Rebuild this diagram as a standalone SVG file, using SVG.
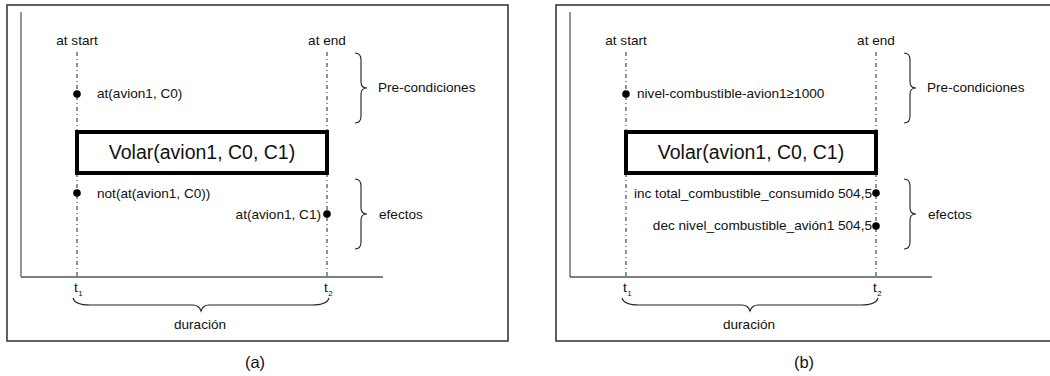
<svg xmlns="http://www.w3.org/2000/svg" width="1050" height="376" viewBox="0 0 1050 376">
  <style>
    text { font-family: "Liberation Sans", Arial, sans-serif; fill: #111; }
    .lbl { font-size: 13.6px; }
    .sub { font-size: 8px; }
    .act { font-size: 19.5px; text-anchor: middle; }
    .cap { font-size: 16.5px; text-anchor: middle; }
    .mid { text-anchor: middle; }
    .end { text-anchor: end; }
    .frame { fill: #fff; stroke: #3a3a3a; stroke-width: 1.6; }
    .yaxis { stroke: #7a7a7a; stroke-width: 1.6; fill: none; }
    .xaxis { stroke: #555; stroke-width: 1.3; fill: none; }
    .tick { stroke: #222; stroke-width: 1; stroke-dasharray: 4 3 1 3; fill: none; }
    .action { fill: #fff; stroke: #000; stroke-width: 4; }
    .brace { fill: none; stroke: #222; stroke-width: 1.1; }
    .dot { fill: #000; }
  </style>
  <defs>
    <!-- right-pointing curly brace, 70 px tall, origin at its upper end -->
    <path id="rbrace" d="M0,0 Q6,0 6,7 L6,29 Q6,35 12,35 Q6,35 6,41 L6,63 Q6,70 0,70"/>
    <!-- downward curly brace spanning the action duration -->
    <path id="dbrace" d="M0,0 Q2,7 17,7 L120,7 Q126,7 128,13 Q130,7 136,7 L239,7 Q254,7 256,0"/>
  </defs>

  <!-- ===================== panel (a) ===================== -->
  <g id="panel-a">
    <rect class="frame" x="7" y="5" width="501" height="336"/>
    <g id="a-axes">
      <line class="yaxis" x1="21" y1="12" x2="21" y2="277"/>
      <line class="xaxis" x1="21" y1="277" x2="383" y2="277"/>
    </g>
    <g id="a-timelines">
      <line class="tick" x1="77" y1="52" x2="77" y2="277"/>
      <line class="tick" x1="327" y1="52" x2="327" y2="277"/>
    </g>
    <g id="a-at-start"><text class="lbl mid" x="77" y="45">at start</text></g>
    <g id="a-at-end"><text class="lbl mid" x="327" y="45">at end</text></g>

    <g id="a-pre">
      <circle class="dot" cx="77" cy="94" r="3.8"/>
      <text class="lbl" x="97" y="98">at(avion1, C0)</text>
    </g>

    <g id="a-action">
      <rect class="action" x="77" y="132" width="250" height="41"/>
      <text class="act" x="202" y="159">Volar(avion1, C0, C1)</text>
    </g>

    <g id="a-eff-start">
      <circle class="dot" cx="77" cy="193" r="3.8"/>
      <text class="lbl" x="97" y="198">not(at(avion1, C0))</text>
    </g>
    <g id="a-eff-end">
      <circle class="dot" cx="327" cy="214" r="3.8"/>
      <text class="lbl end" x="321" y="219">at(avion1, C1)</text>
    </g>

    <g id="a-brace-pre">
      <use href="#rbrace" class="brace" x="355" y="53"/>
      <text class="lbl" x="378" y="92">Pre-condiciones</text>
    </g>
    <g id="a-brace-eff">
      <use href="#rbrace" class="brace" x="355" y="179"/>
      <text class="lbl" x="379" y="219">efectos</text>
    </g>

    <g id="a-t1"><text class="lbl" x="74" y="292">t<tspan class="sub" dx="0.5" dy="4">1</tspan></text></g>
    <g id="a-t2"><text class="lbl" x="324" y="292">t<tspan class="sub" dx="0.5" dy="4">2</tspan></text></g>

    <g id="a-duration">
      <use href="#dbrace" class="brace" x="73" y="298"/>
      <text class="lbl mid" x="200" y="329">duración</text>
    </g>

    <text class="cap" x="255" y="368">(a)</text>
  </g>

  <!-- ===================== panel (b) ===================== -->
  <g id="panel-b">
    <rect class="frame" x="556" y="5" width="501" height="336"/>
    <g id="b-axes">
      <line class="yaxis" x1="570" y1="12" x2="570" y2="277"/>
      <line class="xaxis" x1="570" y1="277" x2="932" y2="277"/>
    </g>
    <g id="b-timelines">
      <line class="tick" x1="626" y1="52" x2="626" y2="277"/>
      <line class="tick" x1="876" y1="52" x2="876" y2="277"/>
    </g>
    <g id="b-at-start"><text class="lbl mid" x="626" y="45">at start</text></g>
    <g id="b-at-end"><text class="lbl mid" x="876" y="45">at end</text></g>

    <g id="b-pre">
      <circle class="dot" cx="626" cy="94" r="3.8"/>
      <text class="lbl" x="637" y="98">nivel-combustible-avion1≥1000</text>
    </g>

    <g id="b-action">
      <rect class="action" x="626" y="132" width="250" height="41"/>
      <text class="act" x="751" y="159">Volar(avion1, C0, C1)</text>
    </g>

    <g id="b-eff-inc">
      <circle class="dot" cx="876" cy="193" r="3.8"/>
      <text class="lbl end" x="872" y="198">inc total_combustible_consumido 504,5</text>
    </g>
    <g id="b-eff-dec">
      <circle class="dot" cx="876" cy="226" r="3.8"/>
      <text class="lbl end" x="872" y="230">dec nivel_combustible_avión1 504,5</text>
    </g>

    <g id="b-brace-pre">
      <use href="#rbrace" class="brace" x="904" y="53"/>
      <text class="lbl" x="927" y="92">Pre-condiciones</text>
    </g>
    <g id="b-brace-eff">
      <use href="#rbrace" class="brace" x="904" y="179"/>
      <text class="lbl" x="928" y="219">efectos</text>
    </g>

    <g id="b-t1"><text class="lbl" x="623" y="292">t<tspan class="sub" dx="0.5" dy="4">1</tspan></text></g>
    <g id="b-t2"><text class="lbl" x="873" y="292">t<tspan class="sub" dx="0.5" dy="4">2</tspan></text></g>

    <g id="b-duration">
      <use href="#dbrace" class="brace" x="622" y="298"/>
      <text class="lbl mid" x="749" y="329">duración</text>
    </g>

    <text class="cap" x="804" y="368">(b)</text>
  </g>
</svg>
